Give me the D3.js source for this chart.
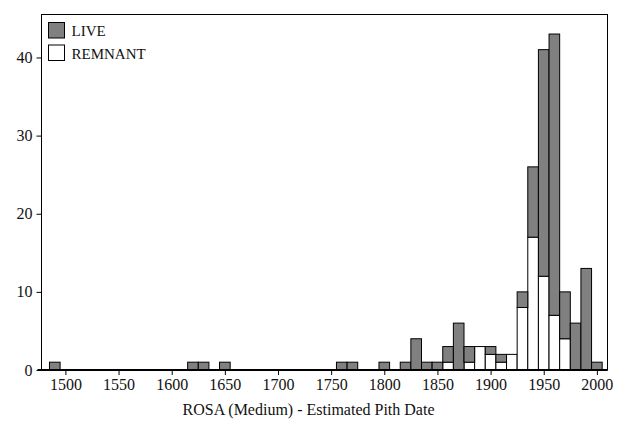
<!DOCTYPE html>
<html>
<head>
<meta charset="utf-8">
<script src="https://cdn.jsdelivr.net/npm/d3@7"></script>
<style>
  html, body { margin: 0; padding: 0; background: #fff; }
  svg { display: block; }
  text { fill: #111; }
</style>
</head>
<body>
<svg id="chart" width="626" height="423"></svg>
<script>
// Decade bins (centre year of each 10-year class)
const binCenters = [1490,1500,1510,1520,1530,1540,1550,1560,1570,1580,1590,1600,1610,1620,1630,1640,1650,1660,1670,1680,1690,1700,1710,1720,1730,1740,1750,1760,1770,1780,1790,1800,1810,1820,1830,1840,1850,1860,1870,1880,1890,1900,1910,1920,1930,1940,1950,1960,1970,1980,1990,2000];
// Tree counts per bin
const remnantCounts = [0,0,0,0,0,0,0,0,0,0,0,0,0,0,0,0,0,0,0,0,0,0,0,0,0,0,0,0,0,0,0,0,0,0,0,0,0,1,0,1,3,2,1,2,8,17,12,7,4,0,0,0];
const liveCounts    = [1,0,0,0,0,0,0,0,0,0,0,0,0,1,1,0,1,0,0,0,0,0,0,0,0,0,0,1,1,0,0,1,0,1,4,1,1,2,6,2,0,1,1,0,2,9,29,36,6,6,13,1];
const xTicks = [1500,1550,1600,1650,1700,1750,1800,1850,1900,1950,2000];
const yTicks = [0,10,20,30,40];
const seriesNames = ["LIVE", "REMNANT"];
const seriesColors = {LIVE: "#808080", REMNANT: "#ffffff"};
const binWidth = 10;
const xTitle = "ROSA (Medium) - Estimated Pith Date";

const FONT = "'Liberation Serif', 'Times New Roman', Tinos, 'DejaVu Serif', serif";

const svg = d3.select("#chart");
const plot = {left: 41.5, right: 607.5, top: 14.5, bottom: 370};

const x = d3.scaleLinear().domain([1477.5, 2010]).range([plot.left, plot.right]);
const y = d3.scaleLinear().domain([0, 45.5]).range([plot.bottom, plot.top]);

// Stack: remnant at the bottom, live on top
const rows = binCenters.map((c, i) => ({c, REMNANT: remnantCounts[i], LIVE: liveCounts[i]}));
const stacked = d3.stack().keys(["REMNANT", "LIVE"])(rows);

// Frame
svg.append("rect")
  .attr("x", plot.left).attr("y", plot.top)
  .attr("width", plot.right - plot.left).attr("height", plot.bottom - plot.top)
  .attr("fill", "none").attr("stroke", "#000").attr("stroke-width", 1);

// Bars
const layers = svg.append("g").selectAll("g").data(stacked).join("g")
  .attr("fill", d => seriesColors[d.key]);
layers.selectAll("rect")
  .data(d => d.filter(s => s[1] - s[0] > 0))
  .join("rect")
  .attr("x", d => x(d.data.c - binWidth / 2))
  .attr("width", d => x(d.data.c + binWidth / 2) - x(d.data.c - binWidth / 2))
  .attr("y", d => y(d[1]))
  .attr("height", d => y(d[0]) - y(d[1]))
  .attr("stroke", "#000").attr("stroke-width", 1);

// Baseline
svg.append("line")
  .attr("x1", plot.left - 4).attr("x2", plot.right)
  .attr("y1", y(0)).attr("y2", y(0))
  .attr("stroke", "#000").attr("stroke-width", 2);

// X axis
const xAxis = svg.append("g")
  .attr("transform", `translate(0,${plot.bottom})`)
  .call(d3.axisBottom(x).tickValues(xTicks).tickFormat(d3.format("d")).tickSize(5).tickPadding(4));
xAxis.attr("font-family", FONT).attr("font-size", 16);
xAxis.select(".domain").remove();
xAxis.selectAll("line").attr("stroke", "#000");
xAxis.selectAll("text").attr("fill", "#111");

// Y axis
const yAxis = svg.append("g")
  .attr("transform", `translate(${plot.left},0)`)
  .call(d3.axisLeft(y).tickValues(yTicks).tickSize(5).tickPadding(4));
yAxis.attr("font-family", FONT).attr("font-size", 16);
yAxis.select(".domain").remove();
yAxis.selectAll("line").attr("stroke", "#000");
yAxis.selectAll("text").attr("fill", "#111");

// Axis title
svg.append("text")
  .attr("x", 308.5).attr("y", 415)
  .attr("text-anchor", "middle").attr("font-size", 16).attr("font-family", FONT)
  .text(xTitle);

// Legend
const legend = svg.append("g").attr("font-family", FONT);
seriesNames.forEach((name, i) => {
  const g = legend.append("g").attr("transform", `translate(48.5,${22.5 + i * 22.5})`);
  g.append("rect").attr("width", 16).attr("height", 15.5)
    .attr("fill", seriesColors[name]).attr("stroke", "#000").attr("stroke-width", 1);
  g.append("text").attr("x", 23).attr("y", 13.5).attr("font-size", 15).text(name);
});
</script>
</body>
</html>
